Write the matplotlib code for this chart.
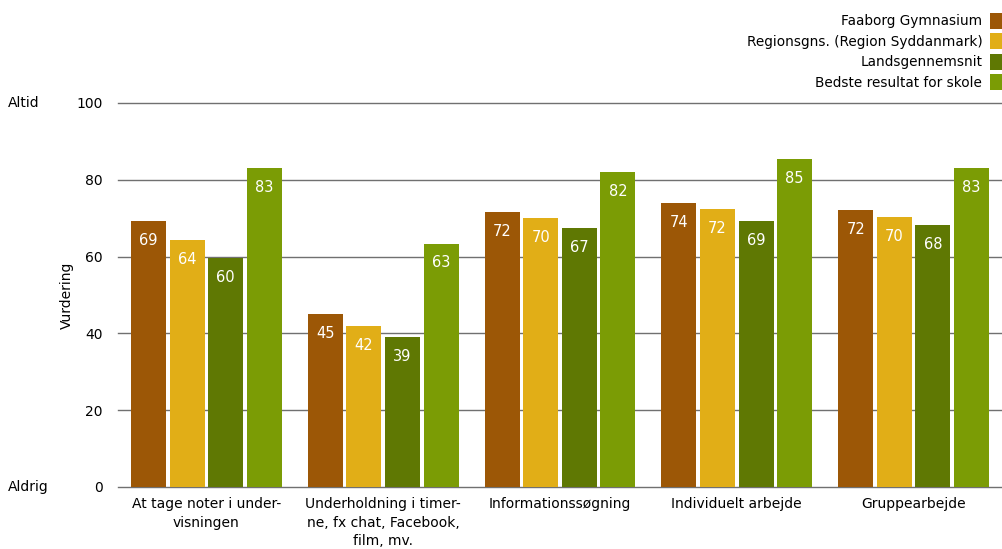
import numpy as np
import matplotlib.pyplot as plt

categories = ['At tage noter i under-\nvisningen',
              'Underholdning i timer-\nne, fx chat, Facebook,\nfilm, mv.',
              'Informationssøgning',
              'Individuelt arbejde',
              'Gruppearbejde']
series_names = ['Faaborg Gymnasium', 'Regionsgns. (Region Syddanmark)',
                'Landsgennemsnit', 'Bedste resultat for skole']
faaborg = [69.3, 45.0, 71.6, 74.0, 72.1]
region = [64.3, 41.9, 70.0, 72.4, 70.3]
lands = [59.6, 39.1, 67.4, 69.3, 68.2]
bedste = [83.1, 63.4, 82.0, 85.4, 83.1]
yticks = [0, 20, 40, 60, 80, 100]

colors = ['#9C5706', '#E1AE17', '#5F7803', '#7B9C05']

plt.rcParams['font.family'] = ['DejaVu Sans']
fig = plt.figure(figsize=(10.02, 5.49), dpi=100)
ax = fig.add_axes([118 / 1002, 1 - 487 / 549, 1 - 118 / 1002, (487 - 103) / 549])

x = np.arange(len(categories))
step = 0.218
width = 0.198
for i, (vals, name) in enumerate(zip([faaborg, region, lands, bedste], series_names)):
    pos = x + (i - 1.5) * step
    bars = ax.bar(pos, vals, width=width, color=colors[i], label=name, zorder=3)
    # value labels inside the top of each bar
    for b, v in zip(bars, vals):
        ax.annotate(f'{round(v)}', (b.get_x() + b.get_width() / 2, v),
                    xytext=(0, -14), textcoords='offset points',
                    ha='center', va='center', color='white', fontsize=10.5, zorder=4)

ax.set_xlim(-0.5, len(categories) - 0.5)
ax.set_ylim(0, 100)
ax.set_yticks(yticks)
ax.set_yticklabels([str(t) for t in yticks], fontsize=10)
ax.yaxis.grid(True, color='#707070', linewidth=1, zorder=0)
for gl in ax.get_ygridlines():
    gl.set_clip_on(False)
ax.set_axisbelow(True)
ax.tick_params(axis='y', length=0, pad=11)
ax.tick_params(axis='x', length=0, pad=7.5)
ax.set_xticks(x)
ax.set_xticklabels(categories, fontsize=10, linespacing=1.4)
for s in ax.spines.values():
    s.set_visible(False)

ax.set_ylabel('Vurdering', fontsize=10, labelpad=2)
fig.text(8 / 1002, 1 - 103 / 549, 'Altid', fontsize=10, va='center', ha='left')
fig.text(8 / 1002, 1 - 487 / 549, 'Aldrig', fontsize=10, va='center', ha='left')

ax.legend(loc='upper right', bbox_to_anchor=(1.0, 1 - 13 / 549), bbox_transform=fig.transFigure,
          frameon=False, markerfirst=False, fontsize=9.8, handlelength=0.85,
          handleheight=1.4, handletextpad=0.6, labelspacing=0.35, borderaxespad=0,
          borderpad=0)

fig.savefig('out.png', dpi=100)
